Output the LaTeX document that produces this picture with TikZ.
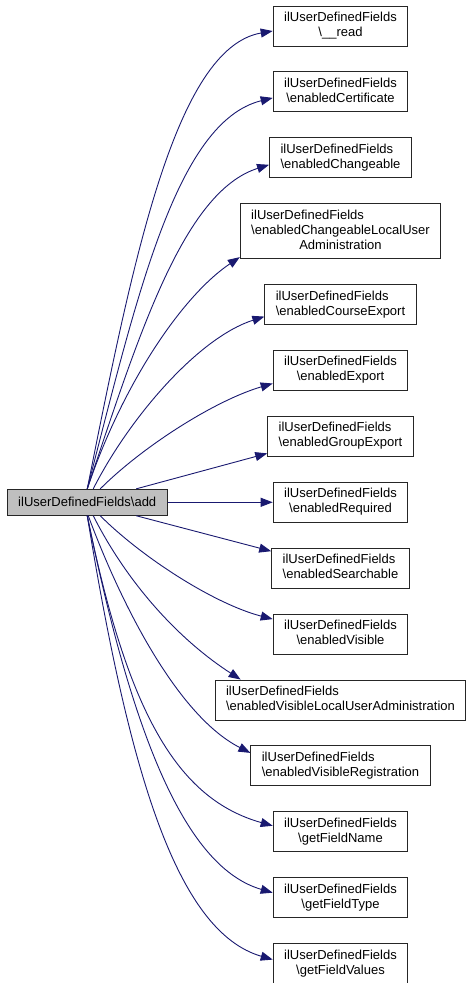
\documentclass[tikz,border=0pt]{standalone}
\usepackage{fontspec}
\setmainfont{Liberation Sans}
\usetikzlibrary{arrows.meta, positioning}

\definecolor{callblue}{HTML}{191970}
\definecolor{addgrey}{HTML}{BFBFBF}

% first line left, last line centred
\newcommand{\fnname}[2]{\begin{tabular}{@{}l@{}}#1\\\multicolumn{1}{@{}c@{}}{#2}\end{tabular}}

\tikzset{
	fnbox/.style={draw=black!85, line width=0.9pt, inner xsep=11pt, inner ysep=5pt, minimum height=40pt, font=\fontsize{13}{15}\selectfont},
	callerbox/.style={fnbox, fill=addgrey, minimum height=26pt},
	call/.style={draw=callblue, line width=0.9pt, -{Triangle[length=12pt, width=9pt]}}
}

\begin{document}
\begin{tikzpicture}[x=1pt, y=1pt]

\useasboundingbox (0,0) rectangle (472,983);

\node [fnbox] (read) at (340.5,957) {\fnname{ilUserDefinedFields}{\textbackslash\_\_read}};
\node [fnbox, below=25pt of read] (cert) {\fnname{ilUserDefinedFields}{\textbackslash enabledCertificate}};
\node [fnbox, below=25pt of cert] (chg) {\fnname{ilUserDefinedFields}{\textbackslash enabledChangeable}};
\node [fnbox, below=25pt of chg] (chgLocal) {
	\begin{tabular}{@{}l@{}}
	ilUserDefinedFields\\
	\textbackslash enabledChangeableLocalUser\\
	\multicolumn{1}{@{}c@{}}{Administration}
	\end{tabular}
};
\node [fnbox, below=25pt of chgLocal] (courseExp) {\fnname{ilUserDefinedFields}{\textbackslash enabledCourseExport}};
\node [fnbox, below=25pt of courseExp] (exp) {\fnname{ilUserDefinedFields}{\textbackslash enabledExport}};
\node [fnbox, below=25pt of exp] (groupExp) {\fnname{ilUserDefinedFields}{\textbackslash enabledGroupExport}};
\node [fnbox, below=25pt of groupExp] (req) {\fnname{ilUserDefinedFields}{\textbackslash enabledRequired}};
\node [fnbox, below=25pt of req] (search) {\fnname{ilUserDefinedFields}{\textbackslash enabledSearchable}};
\node [fnbox, below=25pt of search] (vis) {\fnname{ilUserDefinedFields}{\textbackslash enabledVisible}};
\node [fnbox, below=25pt of vis] (visLocal) {\fnname{ilUserDefinedFields}{\textbackslash enabledVisibleLocalUserAdministration}};
\node [fnbox, below=25pt of visLocal] (visReg) {\fnname{ilUserDefinedFields}{\textbackslash enabledVisibleRegistration}};
\node [fnbox, below=25pt of visReg] (name) {\fnname{ilUserDefinedFields}{\textbackslash getFieldName}};
\node [fnbox, below=25pt of name] (type) {\fnname{ilUserDefinedFields}{\textbackslash getFieldType}};
\node [fnbox, below=25pt of type] (values) {\fnname{ilUserDefinedFields}{\textbackslash getFieldValues}};

\node [callerbox, left=105pt of req] (add) {ilUserDefinedFields\textbackslash add};

% calls going up
\draw [call] (add.north) .. controls +(45,225) and +(-98,-17) .. ([yshift=-5pt]read.west);
\draw [call] (add.north) .. controls +(49,189) and +(-97,-24) .. ([yshift=-6pt]cert.west);
\draw [call] (add.north) .. controls +(51,152) and +(-86,-27) .. ([yshift=-7pt]chg.west);
\draw [call] (add.north) .. controls +(35,104) and +(-58,-39) .. ([yshift=2pt]chgLocal.south west);
\draw [call] ([xshift=6pt]add.north) .. controls +(36,71) and +(-66,-21) .. ([yshift=-12pt]courseExp.west);
\draw [call] ([xshift=13pt]add.north) .. controls +(42,42) and +(-58,-17) .. ([yshift=-13pt]exp.west);
\draw [call] ([xshift=49pt]add.north) -- ([yshift=-17pt]groupExp.west);

\draw [call] (add.east) -- (req.west);

% calls going down
\draw [call] ([xshift=49pt]add.south) -- ([yshift=17pt]search.west);
\draw [call] ([xshift=13pt]add.south) .. controls +(42,-42) and +(-58,15) .. ([yshift=15pt]vis.west);
\draw [call] ([xshift=6pt]add.south) .. controls +(36,-71) and +(-59,38) .. ([xshift=26pt]visLocal.north west);
\draw [call] ([xshift=1pt]add.south) .. controls +(35,-94) and +(-71,36) .. ([yshift=13pt]visReg.west);
\draw [call] (add.south) .. controls +(40,-196) and +(-96,27) .. ([yshift=6pt]name.west);
\draw [call] (add.south) .. controls +(46,-225) and +(-86,25) .. ([yshift=5pt]type.west);
\draw [call] (add.south) .. controls +(42,-257) and +(-96,28) .. ([yshift=4pt]values.west);

\end{tikzpicture}
\end{document}
